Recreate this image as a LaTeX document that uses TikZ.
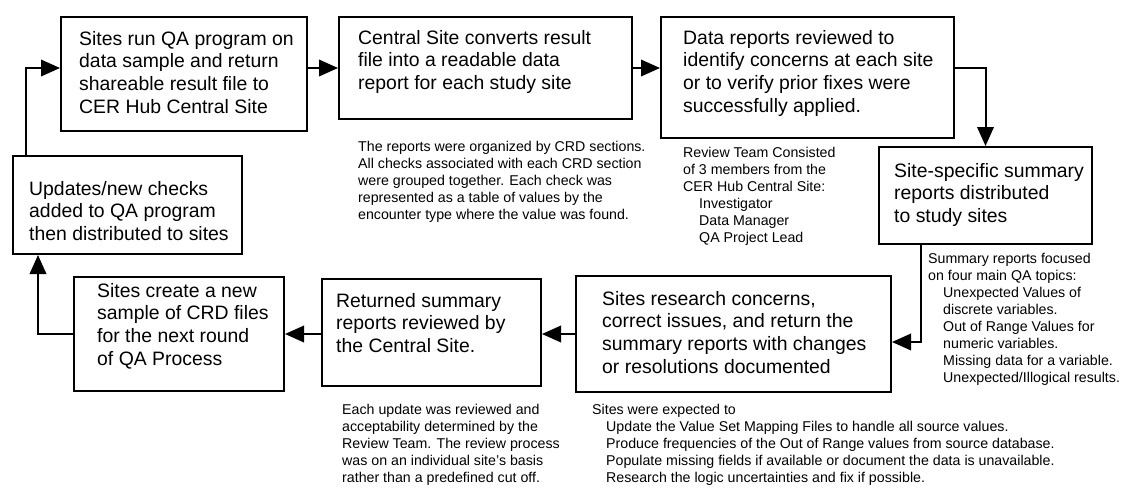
\documentclass[tikz,border=0pt]{standalone}
\usepackage{fontspec}
\setmainfont{Liberation Sans}
\usetikzlibrary{arrows.meta,calc}
\begin{document}
\begin{tikzpicture}[x=1pt,y=-1pt,
  flowbox/.style={draw, line width=2pt, inner sep=0pt, anchor=north west},
  boxtext/.style={font=\fontsize{19.4}{22.7}\selectfont, align=left, inner sep=0pt, anchor=north west},
  notetext/.style={font=\fontsize{14.2}{17}\selectfont, align=left, inner sep=0pt, anchor=north west},
  flow/.style={line width=2pt, -{Triangle[length=19pt,width=16.5pt]}}]
\useasboundingbox (0,0) rectangle (1123,488);

% process boxes
\node[flowbox, minimum width=246pt, minimum height=114pt] (b1) at (60,16) {};
\node[flowbox, minimum width=293pt, minimum height=102pt] (b2) at (338,16) {};
\node[flowbox, minimum width=293pt, minimum height=121pt] (b3) at (660,16) {};
\node[flowbox, minimum width=213pt, minimum height=97pt] (b4) at (878,146) {};
\node[flowbox, minimum width=315pt, minimum height=116pt] (b5) at (575,275) {};
\node[flowbox, minimum width=219pt, minimum height=107pt] (b6) at (321,278) {};
\node[flowbox, minimum width=210pt, minimum height=114pt] (b7) at (73,276) {};
\node[flowbox, minimum width=229pt, minimum height=98pt] (b8) at (12,155) {};

% box texts
\node[boxtext] (t1) at (79,31) {Sites run QA program on\\data sample and return\\shareable result file to\\CER Hub Central Site};
\node[boxtext] (t2) at (358,30) {Central Site converts result\\file into a readable data\\report for each study site};
\node[boxtext] (t3) at (683,30) {Data reports reviewed to\\identify concerns at each site\\or to verify prior fixes were\\successfully applied.};
\node[boxtext] (t4) at (894,163) {Site-specific summary\\reports distributed\\to study sites};
\node[boxtext] (t5) at (602,291) {Sites research concerns,\\correct issues, and return the\\summary reports with changes\\or resolutions documented};
\node[boxtext] (t6) at (336,293) {Returned summary\\reports reviewed by\\the Central Site.};
\node[boxtext] (t7) at (97,283) {Sites create a new\\sample of CRD files\\for the next round\\of QA Process};
\node[boxtext] (t8) at (29,181) {Updates/new checks\\added to QA program\\then distributed to sites};

% notes
\node[notetext] (nA) at (358,141) {The reports were organized by CRD sections.\\All checks associated with each CRD section\\were grouped together. Each check was\\represented as a table of values by the\\encounter type where the value was found.};
\node[notetext] (nB) at (683,147) {Review Team Consisted\\of 3 members from the\\CER Hub Central Site:\\\hspace*{16pt}Investigator\\\hspace*{16pt}Data Manager\\\hspace*{16pt}QA Project Lead};
\node[notetext] (nC) at (928,253) {Summary reports focused\\on four main QA topics:\\\hspace*{15pt}Unexpected Values of\\\hspace*{15pt}discrete variables.\\\hspace*{15pt}Out of Range Values for\\\hspace*{15pt}numeric variables.\\\hspace*{15pt}Missing data for a variable.\\\hspace*{15pt}Unexpected/Illogical results.};
\node[notetext] (nD) at (342,404) {Each update was reviewed and\\acceptability determined by the\\Review Team. The review process\\was on an individual site’s basis\\rather than a predefined cut off.};
\node[notetext] (nE) at (592,404) {Sites were expected to\\\hspace*{14pt}Update the Value Set Mapping Files to handle all source values.\\\hspace*{14pt}Produce frequencies of the Out of Range values from source database.\\\hspace*{14pt}Populate missing fields if available or document the data is unavailable.\\\hspace*{14pt}Research the logic uncertainties and fix if possible.};

% connectors
\coordinate (k) at (0,342);
\draw[flow] (b1.east |- b2.west) -- (b2.west);
\draw[flow] (b2.east) -- (b2.east -| b3.west);
\draw[flow] (b3.east |- b2.east) -| (b4.north);
\draw[flow] ($(b4.south west)+(43,0)$) |- (b5.east |- k);
\draw[flow] (b5.west) -- (b5.west -| b6.east);
\draw[flow] (b6.west |- b7.east) -- (b7.east);
\draw[flow] (b7.west) -| ($(b8.south west)+(26,0)$);
\draw[flow] ($(b8.north west)+(14,0)$) |- (b1.west |- b2.west);
\end{tikzpicture}
\end{document}
